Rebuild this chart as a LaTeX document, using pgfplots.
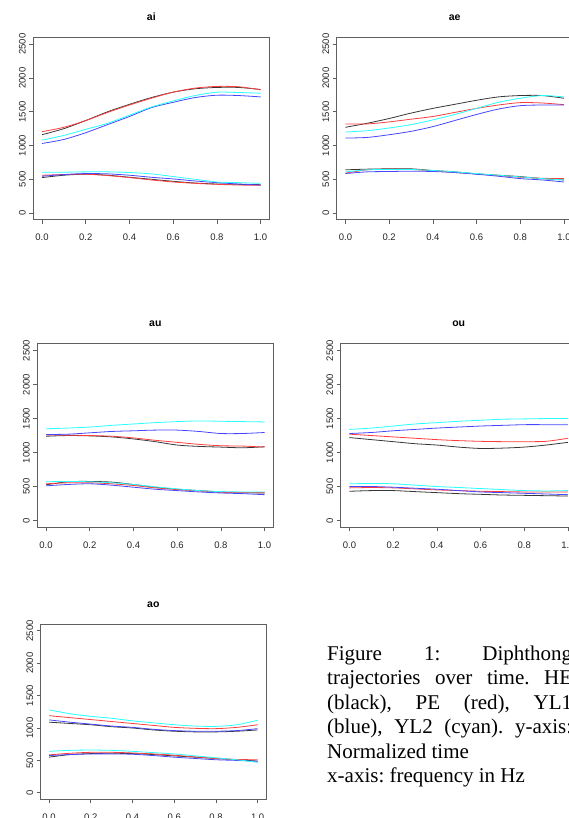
\documentclass[border=0pt]{standalone}
\usepackage{pgfplots}
\pgfplotsset{compat=1.18}
\usepackage{fontspec}
\setmainfont{Liberation Sans}
\newfontfamily\capfont{Liberation Serif}
\definecolor{rblack}{RGB}{55,55,55}
\definecolor{rred}{RGB}{255,60,60}
\definecolor{rblue}{RGB}{70,70,255}
\definecolor{rcyan}{RGB}{40,255,255}
\definecolor{rframe}{RGB}{95,95,95}
\pgfplotsset{
  panel/.style={
    scale only axis, width=236pt, height=182.3pt,
    xmin=-0.04, xmax=1.04, ymin=-100, ymax=2600,
    xtick={0,0.2,0.4,0.6,0.8,1.0}, ytick={0,500,1000,1500,2000,2500},
    tick pos=left, tick align=outside, major tick length=4pt,
    axis line style={rframe, line width=0.7pt},
    tick style={rframe, line width=0.7pt},
    /pgf/number format/assume math mode=true,
    /pgf/number format/1000 sep={},
    xticklabel style={/pgf/number format/.cd, fixed, fixed zerofill, precision=1},
    yticklabel style={rotate=90, anchor=south},
    xticklabel shift=7pt,
    ticklabel style={font=\fontsize{9.5}{10}\selectfont, text=black!85},
    title style={font=\bfseries\fontsize{10.5}{12}\selectfont, at={(0.5,1)}, anchor=base, yshift=11pt},
    every axis plot/.append style={line width=0.8pt, smooth, no marks},
  },
  pk/.style={rblack}, pr/.style={rred}, pb/.style={rblue}, pc/.style={rcyan},
}
\begin{document}
\begin{tikzpicture}[x=1pt,y=1pt]
\path[use as bounding box, clip] (0,0) rectangle (569,818);
% ai
\begin{axis}[panel, at={(33.3pt,598.2pt)}, anchor=south west, title={ai}]
\addplot[pk] coordinates {(0,1160)(0.1,1250)(0.2,1370)(0.3,1500)(0.4,1610)(0.5,1710)(0.6,1790)(0.7,1840)(0.8,1860)(0.9,1860)(1,1830)};
\addplot[pr] coordinates {(0,1205)(0.1,1270)(0.2,1370)(0.3,1490)(0.4,1600)(0.5,1700)(0.6,1790)(0.7,1850)(0.8,1875)(0.9,1870)(1,1825)};
\addplot[pb] coordinates {(0,1030)(0.1,1090)(0.2,1190)(0.3,1310)(0.4,1430)(0.5,1560)(0.6,1640)(0.7,1710)(0.8,1745)(0.9,1740)(1,1720)};
\addplot[pc] coordinates {(0,1080)(0.1,1150)(0.2,1240)(0.3,1330)(0.4,1450)(0.5,1570)(0.6,1660)(0.7,1740)(0.8,1790)(0.9,1785)(1,1775)};
\addplot[pk] coordinates {(0,525)(0.1,560)(0.2,575)(0.3,560)(0.4,530)(0.5,500)(0.6,470)(0.7,445)(0.8,430)(0.9,425)(1,420)};
\addplot[pr] coordinates {(0,560)(0.1,570)(0.2,575)(0.3,555)(0.4,525)(0.5,490)(0.6,460)(0.7,440)(0.8,425)(0.9,415)(1,410)};
\addplot[pb] coordinates {(0,545)(0.1,570)(0.2,585)(0.3,580)(0.4,560)(0.5,530)(0.6,505)(0.7,475)(0.8,450)(0.9,430)(1,415)};
\addplot[pc] coordinates {(0,605)(0.1,605)(0.2,610)(0.3,610)(0.4,600)(0.5,580)(0.6,540)(0.7,500)(0.8,460)(0.9,450)(1,440)};
\end{axis}
% ae
\begin{axis}[panel, at={(336.7pt,598.2pt)}, anchor=south west, title={ae}]
\addplot[pk] coordinates {(0,1270)(0.1,1330)(0.2,1400)(0.3,1480)(0.4,1550)(0.5,1610)(0.6,1670)(0.7,1720)(0.8,1740)(0.9,1740)(1,1700)};
\addplot[pr] coordinates {(0,1320)(0.1,1320)(0.2,1350)(0.3,1390)(0.4,1430)(0.5,1490)(0.6,1550)(0.7,1600)(0.8,1635)(0.9,1630)(1,1605)};
\addplot[pb] coordinates {(0,1110)(0.1,1120)(0.2,1160)(0.3,1210)(0.4,1280)(0.5,1370)(0.6,1460)(0.7,1540)(0.8,1590)(0.9,1600)(1,1600)};
\addplot[pc] coordinates {(0,1200)(0.1,1220)(0.2,1260)(0.3,1310)(0.4,1380)(0.5,1460)(0.6,1550)(0.7,1640)(0.8,1700)(0.9,1740)(1,1720)};
\addplot[pk] coordinates {(0,640)(0.1,650)(0.2,655)(0.3,655)(0.4,630)(0.5,610)(0.6,580)(0.7,560)(0.8,540)(0.9,510)(1,490)};
\addplot[pr] coordinates {(0,590)(0.1,640)(0.2,650)(0.3,645)(0.4,625)(0.5,600)(0.6,580)(0.7,555)(0.8,530)(0.9,515)(1,510)};
\addplot[pb] coordinates {(0,585)(0.1,610)(0.2,615)(0.3,620)(0.4,615)(0.5,600)(0.6,575)(0.7,545)(0.8,510)(0.9,490)(1,460)};
\addplot[pc] coordinates {(0,610)(0.1,640)(0.2,645)(0.3,645)(0.4,630)(0.5,610)(0.6,585)(0.7,560)(0.8,535)(0.9,510)(1,490)};
\end{axis}
% au
\begin{axis}[panel, at={(37.3pt,290.7pt)}, anchor=south west, height=183.5pt, title={au}]
\addplot[pk] coordinates {(0,1240)(0.1,1250)(0.2,1245)(0.3,1230)(0.4,1200)(0.5,1160)(0.6,1110)(0.7,1090)(0.8,1080)(0.9,1070)(1,1085)};
\addplot[pr] coordinates {(0,1260)(0.1,1255)(0.2,1250)(0.3,1240)(0.4,1215)(0.5,1180)(0.6,1150)(0.7,1120)(0.8,1100)(0.9,1095)(1,1080)};
\addplot[pb] coordinates {(0,1265)(0.1,1270)(0.2,1290)(0.3,1310)(0.4,1320)(0.5,1330)(0.6,1330)(0.7,1310)(0.8,1280)(0.9,1280)(1,1295)};
\addplot[pc] coordinates {(0,1350)(0.1,1360)(0.2,1375)(0.3,1400)(0.4,1420)(0.5,1440)(0.6,1455)(0.7,1465)(0.8,1460)(0.9,1455)(1,1450)};
\addplot[pk] coordinates {(0,525)(0.1,570)(0.2,575)(0.3,565)(0.4,530)(0.5,490)(0.6,460)(0.7,440)(0.8,420)(0.9,410)(1,405)};
\addplot[pr] coordinates {(0,540)(0.1,555)(0.2,555)(0.3,540)(0.4,515)(0.5,480)(0.6,455)(0.7,435)(0.8,415)(0.9,410)(1,410)};
\addplot[pb] coordinates {(0,510)(0.1,530)(0.2,540)(0.3,520)(0.4,490)(0.5,460)(0.6,440)(0.7,420)(0.8,405)(0.9,395)(1,380)};
\addplot[pc] coordinates {(0,570)(0.1,575)(0.2,570)(0.3,555)(0.4,530)(0.5,495)(0.6,465)(0.7,440)(0.8,425)(0.9,420)(1,420)};
\end{axis}
% ou
\begin{axis}[panel, at={(340.7pt,290.7pt)}, anchor=south west, height=183.5pt, title={ou}]
\addplot[pk] coordinates {(0,1220)(0.1,1190)(0.2,1160)(0.3,1130)(0.4,1110)(0.5,1080)(0.6,1060)(0.7,1065)(0.8,1080)(0.9,1110)(1,1150)};
\addplot[pr] coordinates {(0,1270)(0.1,1250)(0.2,1230)(0.3,1210)(0.4,1190)(0.5,1175)(0.6,1165)(0.7,1160)(0.8,1160)(0.9,1165)(1,1210)};
\addplot[pb] coordinates {(0,1280)(0.1,1295)(0.2,1320)(0.3,1340)(0.4,1360)(0.5,1375)(0.6,1390)(0.7,1400)(0.8,1410)(0.9,1410)(1,1410)};
\addplot[pc] coordinates {(0,1340)(0.1,1360)(0.2,1390)(0.3,1420)(0.4,1440)(0.5,1460)(0.6,1475)(0.7,1490)(0.8,1495)(0.9,1500)(1,1500)};
\addplot[pk] coordinates {(0,430)(0.1,440)(0.2,440)(0.3,425)(0.4,410)(0.5,395)(0.6,385)(0.7,375)(0.8,370)(0.9,365)(1,360)};
\addplot[pr] coordinates {(0,480)(0.1,485)(0.2,480)(0.3,465)(0.4,450)(0.5,440)(0.6,430)(0.7,425)(0.8,420)(0.9,420)(1,420)};
\addplot[pb] coordinates {(0,500)(0.1,500)(0.2,490)(0.3,475)(0.4,460)(0.5,440)(0.6,420)(0.7,410)(0.8,400)(0.9,390)(1,380)};
\addplot[pc] coordinates {(0,540)(0.1,545)(0.2,540)(0.3,520)(0.4,500)(0.5,485)(0.6,470)(0.7,455)(0.8,440)(0.9,435)(1,440)};
\end{axis}
% ao
\begin{axis}[panel, at={(40.7pt,18.7pt)}, anchor=south west, width=225.3pt, height=175pt, title={ao}]
\addplot[pk] coordinates {(0,1090)(0.1,1070)(0.2,1050)(0.3,1020)(0.4,1000)(0.5,970)(0.6,950)(0.7,940)(0.8,940)(0.9,950)(1,970)};
\addplot[pr] coordinates {(0,1190)(0.1,1160)(0.2,1130)(0.3,1100)(0.4,1070)(0.5,1040)(0.6,1010)(0.7,995)(0.8,990)(0.9,1010)(1,1050)};
\addplot[pb] coordinates {(0,1125)(0.1,1090)(0.2,1060)(0.3,1030)(0.4,1010)(0.5,980)(0.6,960)(0.7,950)(0.8,950)(0.9,960)(1,990)};
\addplot[pc] coordinates {(0,1280)(0.1,1220)(0.2,1180)(0.3,1150)(0.4,1110)(0.5,1080)(0.6,1050)(0.7,1030)(0.8,1025)(0.9,1050)(1,1120)};
\addplot[pk] coordinates {(0,550)(0.1,590)(0.2,605)(0.3,610)(0.4,605)(0.5,590)(0.6,570)(0.7,550)(0.8,530)(0.9,510)(1,490)};
\addplot[pr] coordinates {(0,585)(0.1,610)(0.2,625)(0.3,625)(0.4,615)(0.5,600)(0.6,580)(0.7,555)(0.8,530)(0.9,515)(1,510)};
\addplot[pb] coordinates {(0,575)(0.1,590)(0.2,600)(0.3,600)(0.4,595)(0.5,575)(0.6,550)(0.7,530)(0.8,510)(0.9,500)(1,485)};
\addplot[pc] coordinates {(0,640)(0.1,655)(0.2,660)(0.3,655)(0.4,640)(0.5,620)(0.6,600)(0.7,570)(0.8,540)(0.9,510)(1,470)};
\end{axis}
\node[anchor=north west, inner sep=0pt, text width=245pt, align=justify,
      font=\capfont\fontsize{21}{24.4}\selectfont] at (327,172.3)
  {\frenchspacing Figure 1: Diphthong\linebreak trajectories over time. HE\linebreak (black), PE (red), YL1\linebreak (blue), YL2 (cyan). y-axis:\linebreak Normalized time\\ x-axis: frequency in Hz};
\end{tikzpicture}
\end{document}
